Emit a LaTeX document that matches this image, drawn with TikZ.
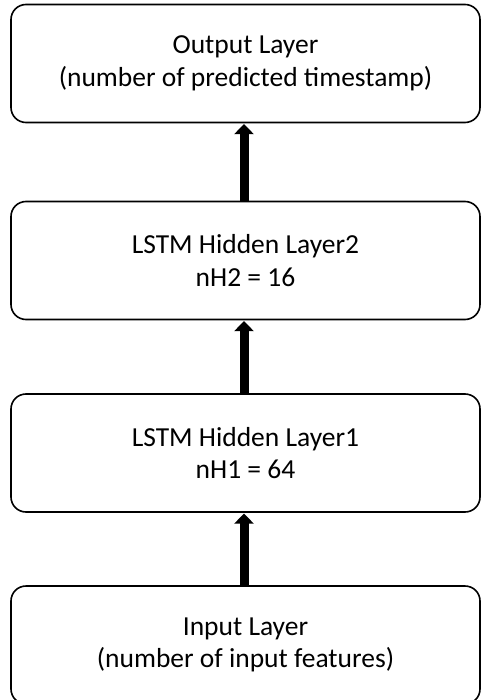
\documentclass[tikz,border=0pt]{standalone}
\usepackage{fontspec}
\setmainfont{Carlito}
\usetikzlibrary{arrows.meta}
\begin{document}
\begin{tikzpicture}[x=1pt,y=1pt,
  layerbox/.style={draw=black, line width=1.6pt, rounded corners=15pt,
    minimum width=469pt, minimum height=118pt, align=center,
    font=\fontsize{27.5}{32.5}\selectfont, inner sep=0pt},
  flow/.style={line width=9pt, -{Triangle[length=10pt 0 0, width=19pt 0 0]}, shorten >=0.8pt}
]
\useasboundingbox (0,0) rectangle (481,-700);
\node[layerbox] (out) at (245.5,-63.5) {Output Layer\\(number of predicted timestamp)};
\node[layerbox] (h2) at (245.5,-260.5) {LSTM Hidden Layer2\\nH2 = 16};
\node[layerbox] (h1) at (245.5,-453) {LSTM Hidden Layer1\\nH1 = 64};
\node[layerbox] (in) at (245.5,-645) {Input Layer\\(number of input features)};
\draw[flow] ([xshift=-1.5pt]in.north) -- ([xshift=-1.5pt]h1.south);
\draw[flow] ([xshift=-1.5pt]h1.north) -- ([xshift=-1.5pt]h2.south);
\draw[flow] ([xshift=-1.5pt]h2.north) -- ([xshift=-1.5pt]out.south);
\end{tikzpicture}
\end{document}
